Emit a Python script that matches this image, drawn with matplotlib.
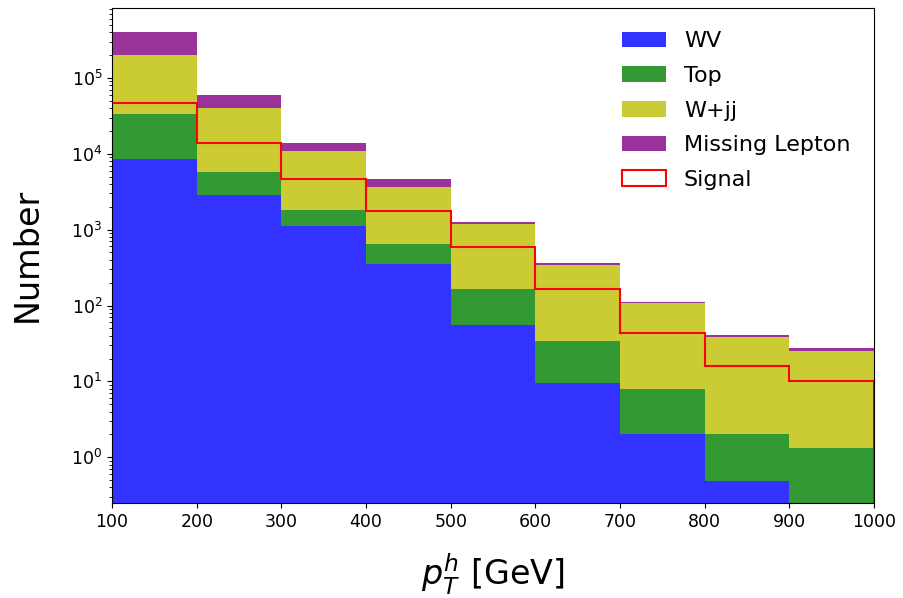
import numpy as np
import matplotlib.pyplot as plt

# bin edges in pT [GeV]
edges = np.arange(100, 1001, 100)
centers = (edges[:-1] + edges[1:]) / 2

# per-bin event counts
wv = [8.5e3, 2.9e3, 1.12e3, 350, 56, 9.4, 2.0, 0.49, 0]
top = [2.45e4, 2.8e3, 700, 290, 110, 24.2, 6.0, 1.56, 1.33]
wjj = [1.67e5, 3.43e4, 9.2e3, 3.06e3, 1004, 306, 101, 36, 23.7]
missing = [2.0e5, 1.9e4, 3.0e3, 1.0e3, 90, 20, 3, 3, 2.5]
signal = [4.6e4, 1.38e4, 4.6e3, 1.78e3, 590, 165, 44, 15.9, 10]

labels = ['WV', 'Top', 'W+jj', 'Missing Lepton']
colors = ['blue', 'green', 'y', 'purple']

fig = plt.figure(figsize=(9.04, 5.98), dpi=100)
ax = fig.add_axes([0.124, 0.159, 0.843, 0.828])

ax.hist([centers] * 4, bins=edges, weights=[wv, top, wjj, missing],
        stacked=True, color=colors, alpha=0.8, label=labels, log=True)
ax.hist(centers, bins=edges, weights=signal, histtype='step',
        color='red', linewidth=1.5, label='Signal')

ax.set_xlim(100, 1000)
ax.set_ylim(0.25, 8.4e5)
ax.set_xticks(edges)
ax.tick_params(labelsize=12.5)
ax.set_xlabel(r'$p_T^h$ [GeV]', fontsize=24)
ax.set_ylabel('Number', fontsize=24)
ax.xaxis.set_label_coords(0.5, -0.098)
ax.yaxis.set_label_coords(-0.09, 0.5)
ax.legend(loc='upper right', bbox_to_anchor=(0.995, 0.993), frameon=False,
          fontsize=16, labelspacing=0.66)

fig.savefig('out.png', dpi=100)
